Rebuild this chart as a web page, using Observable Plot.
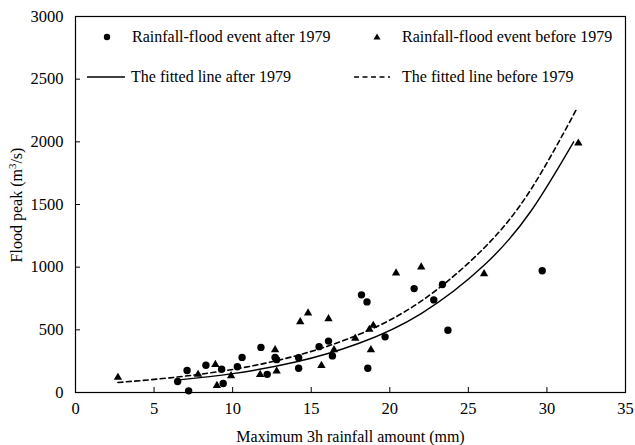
<!DOCTYPE html>
<html>
<head>
<meta charset="utf-8">
<script src="https://cdn.jsdelivr.net/npm/d3@7"></script>
<script src="https://cdn.jsdelivr.net/npm/@observablehq/plot@0.6"></script>
<style>
  html, body { margin: 0; padding: 0; background: #fff; }
  #wrap { position: relative; width: 635px; height: 445px; font-family: "Liberation Serif", "Times New Roman", serif; }
  .leg { position: absolute; font-size: 16px; color: #000; white-space: nowrap; display: flex; align-items: center; }
  .leg svg { display: block; }
</style>
</head>
<body>
<div id="wrap"></div>
<script>
// Rainfall-flood events after 1979 (circles)
const afterX = [6.5, 7.1, 7.2, 8.3, 9.3, 9.4, 10.3, 10.6, 11.8, 12.2, 12.7, 12.8, 14.2, 14.2, 15.5, 16.1, 16.35, 18.2, 18.55, 18.6, 19.7, 21.55, 22.8, 23.35, 23.7, 29.7];
const afterY = [88, 176, 13, 218, 186, 72, 205, 280, 360, 145, 280, 262, 277, 193, 366, 410, 292, 779, 723, 194, 444, 829, 739, 862, 497, 971];
// Rainfall-flood events before 1979 (triangles)
const beforeX = [2.7, 7.8, 8.9, 9.0, 9.9, 11.75, 12.7, 12.8, 14.3, 14.8, 15.65, 16.1, 16.45, 17.8, 18.7, 18.95, 18.8, 20.4, 22.0, 26.0, 32.0];
const beforeY = [120, 144, 223, 56, 133, 143, 340, 170, 564, 634, 214, 587, 340, 433, 503, 535, 340, 952, 1000, 947, 1989];
// Fitted lines
const fitAfterX = [6.6, 10, 14, 18, 22, 26, 29, 31.7];
const fitAfterY = [101, 151, 243, 391, 630, 1015, 1450, 2000];
const fitBeforeX = [2.7, 6, 10, 14, 18, 22, 26, 29, 31.9];
const fitBeforeY = [80, 117, 184, 292, 461, 729, 1153, 1624, 2264];
// Axis ticks
const xTicks = [0, 5, 10, 15, 20, 25, 30, 35];
const yTicks = [0, 500, 1000, 1500, 2000, 2500, 3000];

const after = afterX.map((x, i) => ({x, y: afterY[i]}));
const before = beforeX.map((x, i) => ({x, y: beforeY[i]}));
const fitAfter = fitAfterX.map((x, i) => ({x, y: fitAfterY[i]}));
const fitBefore = fitBeforeX.map((x, i) => ({x, y: fitBeforeY[i]}));

const chart = Plot.plot({
  width: 635,
  height: 445,
  marginLeft: 75,
  marginRight: 10,
  marginTop: 16,
  marginBottom: 53,
  style: {fontFamily: "Liberation Serif, Times New Roman, serif", fontSize: "16px", background: "#fff", color: "#000"},
  x: {domain: [0, 35], ticks: xTicks},
  y: {domain: [0, 3000], ticks: yTicks},
  marks: [
    Plot.frame({stroke: "#000", strokeWidth: 1.2}),
    Plot.axisX(xTicks, {tickSize: -5, tickPadding: 15, fontSize: 16.5, tickFormat: d => String(d), label: null, stroke: "#000", strokeWidth: 1}),
    Plot.axisY(yTicks, {tickSize: -5, tickPadding: 17, fontSize: 16.5, tickFormat: d => String(d), label: null, stroke: "#000", strokeWidth: 1}),
    Plot.text(["Maximum 3h rainfall amount (mm)"], {frameAnchor: "bottom", dy: 49, fontSize: 16, fill: "#000"}),
    Plot.line(fitBefore, {x: "x", y: "y", curve: "natural", stroke: "#000", strokeWidth: 1.6, strokeDasharray: "5,3.5"}),
    Plot.line(fitAfter, {x: "x", y: "y", curve: "natural", stroke: "#000", strokeWidth: 1.4}),
    Plot.dot(after, {x: "x", y: "y", r: 3.7, fill: "#000", stroke: "none"}),
    Plot.dot(before, {x: "x", y: "y", r: 3.1, symbol: "triangle", fill: "#000", stroke: "none"})
  ]
});

const wrap = document.getElementById("wrap");
wrap.appendChild(chart);

// Y axis title with superscript
const ns = "http://www.w3.org/2000/svg";
const yt = document.createElementNS(ns, "text");
yt.setAttribute("transform", "translate(22,205) rotate(-90)");
yt.setAttribute("text-anchor", "middle");
yt.setAttribute("font-size", "16");
yt.setAttribute("fill", "#000");
yt.innerHTML = 'Flood peak (m<tspan dy="-6" font-size="11">3</tspan><tspan dy="6">/s)</tspan>';
chart.appendChild(yt);

// Legend
function legItem(left, top, symbolSvg, label) {
  const d = document.createElement("div");
  d.className = "leg";
  d.style.left = left + "px";
  d.style.top = top + "px";
  d.innerHTML = symbolSvg + '<span>' + label + '</span>';
  wrap.appendChild(d);
}
legItem(88, 27, '<svg width="40" height="20"><circle cx="19" cy="10" r="3.2" fill="#000"/></svg><span style="width:4px"></span>', "Rainfall-flood event after 1979");
legItem(356, 27, '<svg width="40" height="20"><path d="M21,6.5 L24.5,12.5 L17.5,12.5 Z" fill="#000"/></svg><span style="width:6px"></span>', "Rainfall-flood event before 1979");
legItem(86, 67, '<svg width="40" height="20"><line x1="1" y1="10" x2="39" y2="10" stroke="#000" stroke-width="1.4"/></svg><span style="width:5px"></span>', "The fitted line after 1979");
legItem(354, 67, '<svg width="40" height="20"><line x1="0" y1="10" x2="36" y2="10" stroke="#000" stroke-width="1.6" stroke-dasharray="5,3.5"/></svg><span style="width:8px"></span>', "The fitted line before 1979");
</script>
</body>
</html>
